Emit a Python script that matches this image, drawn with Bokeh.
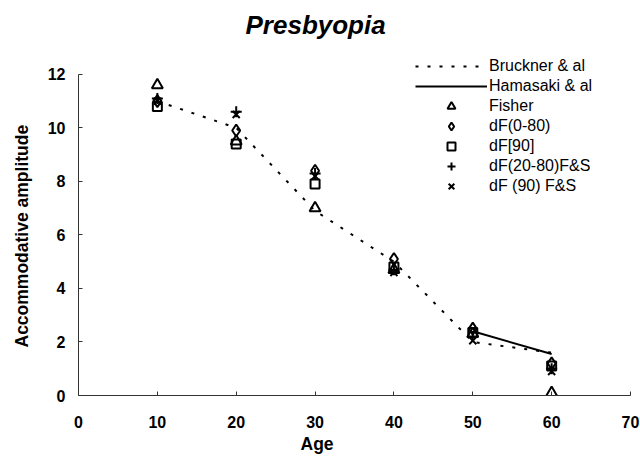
from bokeh.plotting import figure
from bokeh.models import Range1d, Legend, LegendItem, Title, FixedTicker
from bokeh.embed import file_html
from bokeh.resources import INLINE

# ---- data ----
ages = [10, 20, 30, 40, 50, 60]
bruckner = [11.0, 10.0, 6.9, 5.0, 2.0, 1.6]
hamasaki_ages = [50, 60]
hamasaki = [2.4, 1.55]
fisher = [11.6, 9.5, 7.0, 4.7, 2.3, 0.1]
df_0_80 = [11.0, 9.9, 8.4, 5.1, 2.5, 1.2]
df_90 = [10.8, 9.4, 7.9, 4.8, 2.35, 1.1]
df_20_80_fs = [11.1, 10.6, 8.3, 4.7, 2.2, 1.0]
df_90_fs = [11.0, 10.5, 8.2, 4.6, 2.05, 0.9]
x_ticks = [0, 10, 20, 30, 40, 50, 60, 70]
y_ticks = [0, 2, 4, 6, 8, 10, 12]

FONT = "Liberation Sans"

# frame spans a little above 12 so the legend can sit above the axis top
Y_TOP = 12 * 347 / 323

p = figure(width=640, height=456, output_backend="svg", toolbar_location=None,
           x_range=Range1d(0, 70), y_range=Range1d(0, Y_TOP),
           title="Presbyopia",
           min_border_left=78, min_border_right=10, min_border_top=48, min_border_bottom=61)

p.title.text_font = FONT
p.title.text_font_style = "bold italic"
p.title.text_font_size = "26px"
p.title.text_color = "black"
p.title.align = "left"
p.title.offset = 167
p.title.vertical_align = "top"
p.title.standoff = 18

p.outline_line_color = None
p.xgrid.grid_line_color = None
p.ygrid.grid_line_color = None
p.background_fill_color = "white"

for ax in (p.xaxis[0], p.yaxis[0]):
    ax.major_tick_in = 4
    ax.major_tick_out = 0
    ax.minor_tick_line_color = None
    ax.axis_line_color = "#333333"
    ax.major_tick_line_color = "#333333"
    ax.major_label_text_font = FONT
    ax.major_label_text_font_style = "bold"
    ax.major_label_text_font_size = "16px"
    ax.major_label_text_color = "black"

p.yaxis.bounds = (0, 12)
p.xaxis.ticker = FixedTicker(ticks=x_ticks)
p.yaxis.ticker = FixedTicker(ticks=y_ticks)
p.xaxis.major_label_standoff = 20
p.yaxis.major_label_standoff = 13

y_title = Title(text="Accommodative amplitude", align="left", offset=48, text_font=FONT,
                text_font_style="bold", text_font_size="17.5px", text_color="black",
                vertical_align="top", standoff=21)
p.add_layout(y_title, "left")

age_title = Title(text="Age", align="left", offset=222, text_font=FONT,
                  text_font_style="bold", text_font_size="17.5px", text_color="black",
                  standoff=2)
p.add_layout(age_title, "below")

r_b = p.line(ages, bruckner, line_color="black", line_width=2, line_dash="3 9")
r_h = p.line(hamasaki_ages, hamasaki, line_color="black", line_width=2)

mk = dict(line_color="black", line_width=2, fill_color=None)
r_f = p.scatter(ages, fisher, marker="triangle", size=11, **mk)
r_d = p.scatter(ages, df_0_80, marker="diamond", size=12, **mk)
r_s = p.scatter(ages, df_90, marker="square", size=9, **mk)
r_c = p.scatter(ages, df_20_80_fs, marker="cross", size=11, **mk)
r_x = p.scatter(ages, df_90_fs, marker="x", size=10, **mk)

legend = Legend(items=[
    LegendItem(label="Bruckner & al", renderers=[r_b]),
    LegendItem(label="Hamasaki & al", renderers=[r_h]),
    LegendItem(label="Fisher", renderers=[r_f]),
    LegendItem(label="dF(0-80)", renderers=[r_d]),
    LegendItem(label="dF[90]", renderers=[r_s]),
    LegendItem(label="dF(20-80)F&S", renderers=[r_c]),
    LegendItem(label="dF (90) F&S", renderers=[r_x]),
], location=(337, 199), padding=0, margin=0, spacing=0,
   glyph_width=72, glyph_height=20, label_height=20, label_standoff=2,
   label_text_font=FONT, label_text_font_size="16px", label_text_color="black",
   border_line_color=None, background_fill_alpha=0)
p.add_layout(legend)

open("out.html", "w").write(file_html(p, INLINE))
